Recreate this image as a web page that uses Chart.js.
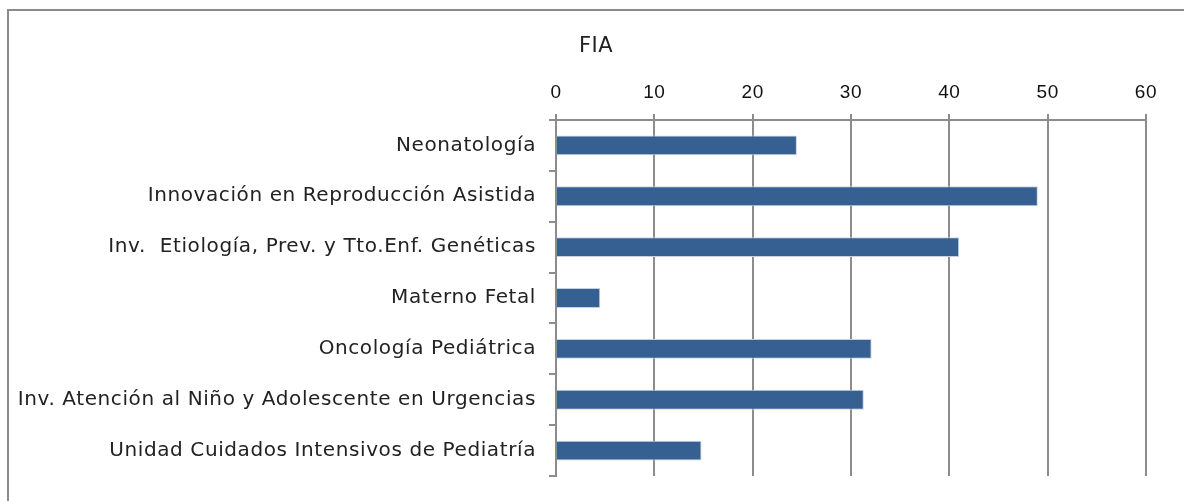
<!DOCTYPE html>
<html>
<head>
<meta charset="utf-8">
<script src="https://cdn.jsdelivr.net/npm/chart.js@4/dist/chart.umd.min.js"></script>
<style>
  html, body { margin: 0; padding: 0; background: #fff; }
  #wrap { position: relative; width: 1184px; height: 501px; overflow: hidden; }
  #frame { position: absolute; left: 7px; top: 9px; width: 1300px; height: 600px;
           border-top: 2px solid #8a8a8a; border-left: 2px solid #8a8a8a; box-sizing: border-box; }
  canvas { position: absolute; left: 0; top: 0; }
</style>
</head>
<body>
<div id="wrap">
  <div id="frame"></div>
  <canvas id="c" width="1184" height="501"></canvas>
</div>
<script>
// Research groups and their FIA score
const categories = [
  'Neonatología',
  'Innovación en Reproducción Asistida',
  'Inv.  Etiología, Prev. y Tto.Enf. Genéticas',
  'Materno Fetal',
  'Oncología Pediátrica',
  'Inv. Atención al Niño y Adolescente en Urgencias',
  'Unidad Cuidados Intensivos de Pediatría'
];
const fiaValues = [24.5, 49.0, 41.0, 4.5, 32.1, 31.3, 14.8];
const seriesName = 'FIA';
const axisMin = 0;
const axisMax = 60;
const axisStep = 10;

const gridColor = '#8c8c8c';

// Slightly wider letter spacing for the axis labels
const spacingPlugin = {
  id: 'spacing',
  beforeDraw(chart) { chart.ctx.letterSpacing = '0.6px'; },
  beforeDatasetsDraw(chart) { chart.ctx.letterSpacing = '0px'; }
};

// Draws the chart caption just right of the plot's left edge
const captionPlugin = {
  id: 'caption',
  afterDraw(chart) {
    const ctx = chart.ctx;
    ctx.save();
    ctx.letterSpacing = '0.5px';
    ctx.font = '21px "DejaVu Sans"';
    ctx.fillStyle = '#222';
    ctx.textBaseline = 'middle';
    ctx.textAlign = 'left';
    ctx.fillText(seriesName, chart.chartArea.left + 23, 47);
    ctx.restore();
  }
};

new Chart(document.getElementById('c'), {
  type: 'bar',
  data: {
    labels: categories,
    datasets: [{
      label: seriesName,
      data: fiaValues,
      backgroundColor: '#366092',
      borderColor: '#c6d2e2',
      borderWidth: 1,
      borderSkipped: 'start',
      categoryPercentage: 1.0,
      barPercentage: 0.39
    }]
  },
  options: {
    indexAxis: 'y',
    responsive: false,
    animation: false,
    layout: { padding: { top: 70, right: 38, bottom: 22, left: 0 } },
    plugins: {
      legend: { display: false },
      tooltip: { enabled: false }
    },
    scales: {
      x: {
        position: 'top',
        min: axisMin,
        max: axisMax,
        ticks: {
          stepSize: axisStep,
          color: '#111',
          font: { family: '"Liberation Sans"', size: 19 },
          padding: 10
        },
        grid: {
          color: gridColor,
          lineWidth: 2,
          tickLength: 6,
          drawTicks: true
        },
        border: { display: true, color: gridColor, width: 2 },
        afterFit(scale) { scale.height = 50; }
      },
      y: {
        ticks: {
          color: '#222',
          font: { family: '"DejaVu Sans"', size: 20 },
          padding: 13
        },
        grid: {
          offset: true,
          drawOnChartArea: false,
          color: gridColor,
          lineWidth: 2,
          tickLength: 7
        },
        border: { display: true, color: gridColor, width: 2 },
        afterFit(scale) { scale.width = 556; }
      }
    }
  },
  plugins: [spacingPlugin, captionPlugin]
});
</script>
</body>
</html>
